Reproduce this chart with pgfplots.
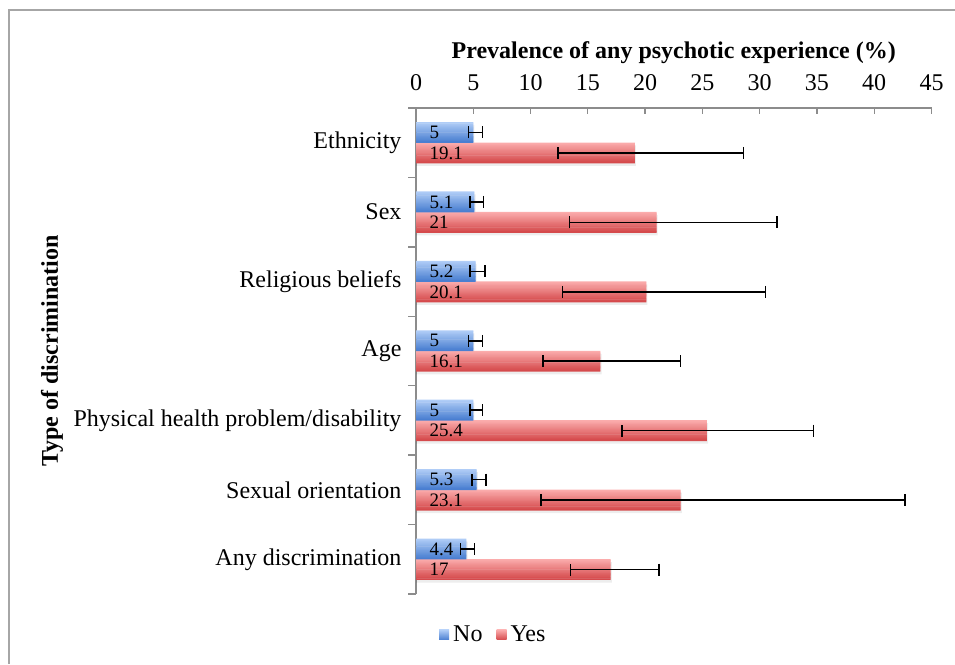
\documentclass[border=0pt]{standalone}
\usepackage{pgfplots}
\pgfplotsset{compat=1.18}
\usepackage{pgfplotstable}
\usepackage{fontspec}
\setmainfont{Liberation Serif}

\definecolor{noTop}{HTML}{B0CDF7}
\definecolor{noBot}{HTML}{4A7FD1}
\definecolor{yesTop}{HTML}{FBACAC}
\definecolor{yesBot}{HTML}{D54A4C}
\definecolor{axisGray}{HTML}{8C8C8C}
\definecolor{frameGray}{HTML}{A6A6A6}
% stripe colours for the top-to-bottom gradient of each bar
\foreach \i in {0,...,15}{%
  \pgfmathtruncatemacro\pct{\i*100/15}%
  \xglobal\colorlet{noS\i}{noBot!\pct!noTop}%
  \xglobal\colorlet{yesS\i}{yesBot!\pct!yesTop}%
}

% Prevalence (%) of any psychotic experience with 95% confidence limits.
% pos 6 is the top row (Ethnicity), pos 0 the bottom row.
\pgfplotstableread{
pos no   nolo nohi yes  yeslo yeshi
6   5.0  4.6  5.8  19.1 12.4  28.6
5   5.1  4.7  5.9  21.0 13.4  31.5
4   5.2  4.7  6.0  20.1 12.8  30.5
3   5.0  4.6  5.8  16.1 11.1  23.1
2   5.0  4.7  5.8  25.4 18.0  34.7
1   5.3  4.9  6.1  23.1 10.9  42.7
0   4.4  3.9  5.1  17.0 13.5  21.2
}\prevtable

% one row unit is 486pt/7 = 69.43pt; each bar is 20.5pt thick
\begin{document}
\begin{tikzpicture}[x=1pt,y=1pt]
\path[use as bounding box] (0,0) rectangle (955,664);
\draw[frameGray, line width=2pt] (9,0) -- (9,654) -- (955,654);
\begin{axis}[
  at={(416pt,70pt)}, anchor=south west,
  scale only axis, width=515.5pt, height=486pt,
  xmin=0, xmax=45, ymin=-0.5, ymax=6.5,
  axis x line*=top, axis y line*=left,
  axis line style={axisGray, line width=1.3pt},
  /pgf/number format/assume math mode=true,
  tick align=inside,
  xtick={0,5,...,45},
  major tick length=6pt,
  minor tick length=-8pt,
  ytick={0,...,6},
  yticklabels={Any discrimination, Sexual orientation, Physical health problem/disability, Age, Religious beliefs, Sex, Ethnicity},
  minor ytick={-0.5,0.5,...,6.5},
  major x tick style={axisGray, line width=1.3pt},
  major y tick style={draw=none},
  minor y tick style={axisGray, line width=1.3pt},
  ticklabel style={font=\fontsize{24}{28}\selectfont},
  xticklabel style={yshift=14pt},
  yticklabel style={xshift=-11pt},
  xlabel={Prevalence of any psychotic experience (\%)},
  xlabel style={at={(axis description cs:0.5,1)}, anchor=center, yshift=55pt,
    font=\bfseries\fontsize{24}{28}\selectfont},
  ylabel={Type of discrimination},
  ylabel style={at={(axis description cs:-0.706,0.5)}, anchor=center,
    font=\bfseries\fontsize{24}{28}\selectfont},
  legend style={at={(axis description cs:0.15,-0.084)}, anchor=center,
    draw=none, legend columns=2, font=\fontsize{24}{28}\selectfont,
    /tikz/every odd column/.append style={column sep=2pt},
    /tikz/every even column/.append style={column sep=12pt}},
]
% soft shadow under the bars
\addplot[xbar, forget plot, bar width=20.5pt, bar shift=0pt, draw=none, fill=black, fill opacity=0.07]
  table[x expr=\thisrow{no}+0.1, y expr=\thisrow{pos}+0.1476-0.04] {\prevtable};
\addplot[xbar, forget plot, bar width=20.5pt, bar shift=0pt, draw=none, fill=black, fill opacity=0.07]
  table[x expr=\thisrow{yes}+0.1, y expr=\thisrow{pos}-0.1476-0.04] {\prevtable};
% gradient bars built from thin stripes (16 per bar, 1.28pt apart)
\pgfplotsinvokeforeach{0,...,15}{
  \addplot[xbar, forget plot, bar width=1.7pt, bar shift=0pt, draw=none, fill=noS#1]
    table[x=no, y expr=\thisrow{pos}+(20.5-(#1+0.5)*1.28125)/69.43] {\prevtable};
  \addplot[xbar, forget plot, bar width=1.7pt, bar shift=0pt, draw=none, fill=yesS#1]
    table[x=yes, y expr=\thisrow{pos}-((#1+0.5)*1.28125)/69.43] {\prevtable};
}
% confidence intervals
\addplot[xbar, bar width=20.5pt, bar shift=0pt, draw=none, fill=none,
  legend image code/.code={\shade[top color=noTop,bottom color=noBot] (0pt,-5pt) rectangle (10pt,5pt);},
  error bars/.cd, x dir=both, x explicit, error mark=|,
  error bar style={draw=black, line width=1.6pt},
  error mark options={draw=black, line width=1.6pt, mark size=6pt}]
  table[x=no, y expr=\thisrow{pos}+0.1476,
    x error plus expr=\thisrow{nohi}-\thisrow{no},
    x error minus expr=\thisrow{no}-\thisrow{nolo}] {\prevtable};
\addlegendentry{No}
\addplot[xbar, bar width=20.5pt, bar shift=0pt, draw=none, fill=none,
  legend image code/.code={\shade[top color=yesTop,bottom color=yesBot] (0pt,-5pt) rectangle (10pt,5pt);},
  error bars/.cd, x dir=both, x explicit, error mark=|,
  error bar style={draw=black, line width=1.6pt},
  error mark options={draw=black, line width=1.6pt, mark size=6pt}]
  table[x=yes, y expr=\thisrow{pos}-0.1476,
    x error plus expr=\thisrow{yeshi}-\thisrow{yes},
    x error minus expr=\thisrow{yes}-\thisrow{yeslo}] {\prevtable};
\addlegendentry{Yes}
% value labels at the base of each bar
\addplot[xbar, forget plot, bar width=20.5pt, bar shift=0pt, draw=none, fill=none,
  point meta=explicit, nodes near coords,
  nodes near coords style={anchor=west, xshift=10pt, text=black,
    font=\fontsize{19}{21}\selectfont}]
  table[x expr=0, y expr=\thisrow{pos}+0.1476, meta=no] {\prevtable};
\addplot[xbar, forget plot, bar width=20.5pt, bar shift=0pt, draw=none, fill=none,
  point meta=explicit, nodes near coords,
  nodes near coords style={anchor=west, xshift=10pt, text=black,
    font=\fontsize{19}{21}\selectfont}]
  table[x expr=0, y expr=\thisrow{pos}-0.1476, meta=yes] {\prevtable};
\end{axis}
\end{tikzpicture}
\end{document}
